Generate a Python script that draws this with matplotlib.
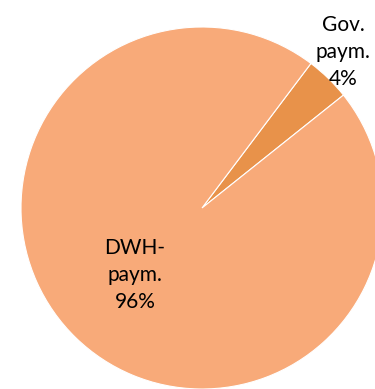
import matplotlib.pyplot as plt

labels = ["Gov.\npaym.\n4%", "DWH-\npaym.\n96%"]
values = [4, 96]
colors = ["#E8924A", "#F8AA79"]

fig = plt.figure(figsize=(3.75, 3.89), dpi=100)
ax = fig.add_axes([0, 0, 1, 1])

ax.pie(values, colors=colors, startangle=53, counterclock=False,
       center=(202, 181), radius=181,
       wedgeprops=dict(edgecolor="white", linewidth=0.8))

ax.set_xlim(0, 375)
ax.set_ylim(0, 389)
ax.axis("off")

# label positions (pixels from left/bottom)
ax.text(343, 337, labels[0], ha="center", va="center", fontsize=15,
        family="Lato", linespacing=1.45)
ax.text(135, 114, labels[1], ha="center", va="center", fontsize=15,
        family="Lato", linespacing=1.45)

plt.savefig("out.png", dpi=100)
